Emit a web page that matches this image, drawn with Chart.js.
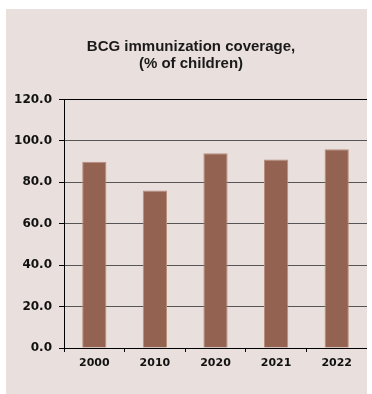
<!DOCTYPE html>
<html>
<head>
<meta charset="utf-8">
<script src="https://cdn.jsdelivr.net/npm/chart.js@4"></script>
<style>
    html, body { margin: 0; padding: 0; background: #ffffff; }
    .panel {
        position: absolute;
        left: 6px;
        top: 9px;
        width: 361px;
        height: 385px;
        background: #e9dfdc;
    }
</style>
</head>
<body>
<div class="panel"><canvas id="chart"></canvas></div>
<script>
const years = ['2000', '2010', '2020', '2021', '2022'];
const coverage = [90, 76, 94, 91, 96];
const yTicks = [0, 20, 40, 60, 80, 100, 120];

const config = {
    type: 'bar',
    data: {
        labels: years,
        datasets: [{
            data: coverage,
            backgroundColor: '#946250',
            borderColor: '#b8907f',
            borderWidth: 1,
            barPercentage: 0.4,
            categoryPercentage: 1.0
        }]
    },
    options: {
        responsive: true,
        maintainAspectRatio: false,
        animation: false,
        layout: {
            padding: { left: 9, right: 0, top: 0, bottom: 0 }
        },
        plugins: {
            legend: { display: false },
            tooltip: { enabled: false },
            title: {
                display: true,
                text: ['BCG immunization coverage,', '(% of children)'],
                color: '#1a1a1a',
                font: { family: 'Liberation Sans, Arial, sans-serif', size: 15, weight: 'bold', lineHeight: 1.15 },
                padding: { top: 29, bottom: 27 }
            }
        },
        scales: {
            x: {
                offset: true,
                grid: {
                    offset: true,
                    drawOnChartArea: true,
                    color: c => c.index === years.length ? '#000000' : 'rgba(0,0,0,0)',
                    tickColor: '#000000',
                    tickLength: 4
                },
                border: { display: true, color: '#000000', width: 1 },
                ticks: {
                    color: '#111111',
                    padding: 5,
                    font: { family: 'DejaVu Sans', size: 11, weight: 'bold' }
                },
                afterFit: scale => { scale.height = 46; }
            },
            y: {
                min: 0,
                max: 120,
                afterBuildTicks: scale => { scale.ticks = yTicks.map(v => ({ value: v })); },
                grid: {
                    color: c => c.tick && c.tick.value === 120 ? '#000000' : '#555555',
                    tickColor: '#000000',
                    tickLength: 5
                },
                border: { display: true, color: '#000000', width: 1 },
                ticks: {
                    color: '#111111',
                    padding: 7,
                    callback: v => Number(v).toFixed(1),
                    font: { family: 'DejaVu Sans', size: 12, weight: 'bold' }
                },
                afterFit: scale => { scale.width = 49; }
            }
        }
    }
};

new Chart(document.getElementById('chart').getContext('2d'), config);
</script>
</body>
</html>
